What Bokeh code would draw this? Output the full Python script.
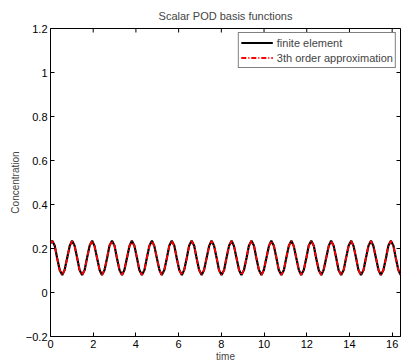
import math
from bokeh.plotting import figure
from bokeh.models import FixedTicker, CustomJSTickFormatter, Range1d, Legend, LegendItem
from bokeh.embed import file_html
from bokeh.resources import INLINE

# ---- data ----
time = [
    0.00,
    0.08, 0.20, 0.31, 0.43, 0.55, 0.66, 0.78, 0.90,
    1.01, 1.13, 1.25, 1.36, 1.48, 1.60, 1.71, 1.83,
    1.95, 2.06, 2.18, 2.30, 2.41, 2.53, 2.65, 2.76,
    2.88, 3.00, 3.11, 3.23, 3.35, 3.46, 3.58, 3.70,
    3.81, 3.93, 4.05, 4.16, 4.28, 4.40, 4.51, 4.63,
    4.75, 4.86, 4.98, 5.10, 5.21, 5.33, 5.45, 5.56,
    5.68, 5.80, 5.91, 6.03, 6.15, 6.26, 6.38, 6.49,
    6.61, 6.73, 6.84, 6.96, 7.08, 7.19, 7.31, 7.43,
    7.54, 7.66, 7.78, 7.89, 8.01, 8.13, 8.24, 8.36,
    8.48, 8.59, 8.71, 8.83, 8.94, 9.06, 9.18, 9.29,
    9.41, 9.53, 9.64, 9.76, 9.88, 9.99, 10.11, 10.23,
    10.34, 10.46, 10.58, 10.69, 10.81, 10.93, 11.04, 11.16,
    11.28, 11.39, 11.51, 11.63, 11.74, 11.86, 11.98, 12.09,
    12.21, 12.33, 12.44, 12.56, 12.68, 12.79, 12.91, 13.03,
    13.14, 13.26, 13.38, 13.49, 13.61, 13.73, 13.84, 13.96,
    14.08, 14.19, 14.31, 14.42, 14.54, 14.66, 14.77, 14.89,
    15.01, 15.12, 15.24, 15.36, 15.47, 15.59, 15.71, 15.82,
    15.94, 16.06, 16.17, 16.29, 16.39,
]
finite_element = [
    0.224,
    0.235, 0.212, 0.157, 0.102, 0.079, 0.102, 0.157, 0.212,
    0.235, 0.212, 0.157, 0.102, 0.079, 0.102, 0.157, 0.212,
    0.235, 0.212, 0.157, 0.102, 0.079, 0.102, 0.157, 0.212,
    0.235, 0.212, 0.157, 0.102, 0.079, 0.102, 0.157, 0.212,
    0.235, 0.212, 0.157, 0.102, 0.079, 0.102, 0.157, 0.212,
    0.235, 0.212, 0.157, 0.102, 0.079, 0.102, 0.157, 0.212,
    0.235, 0.212, 0.157, 0.102, 0.079, 0.102, 0.157, 0.212,
    0.235, 0.212, 0.157, 0.102, 0.079, 0.102, 0.157, 0.212,
    0.235, 0.212, 0.157, 0.102, 0.079, 0.102, 0.157, 0.212,
    0.235, 0.212, 0.157, 0.102, 0.079, 0.102, 0.157, 0.212,
    0.235, 0.212, 0.157, 0.102, 0.079, 0.102, 0.157, 0.212,
    0.235, 0.212, 0.157, 0.102, 0.079, 0.102, 0.157, 0.212,
    0.235, 0.212, 0.157, 0.102, 0.079, 0.102, 0.157, 0.212,
    0.235, 0.212, 0.157, 0.102, 0.079, 0.102, 0.157, 0.212,
    0.235, 0.212, 0.157, 0.102, 0.079, 0.102, 0.157, 0.212,
    0.235, 0.212, 0.157, 0.102, 0.079, 0.102, 0.157, 0.212,
    0.235, 0.212, 0.157, 0.102, 0.079, 0.102, 0.157, 0.212,
    0.235, 0.212, 0.157, 0.102, 0.080,
]
approximation = [
    0.224,
    0.234, 0.212, 0.157, 0.102, 0.080, 0.102, 0.157, 0.212,
    0.234, 0.212, 0.157, 0.102, 0.080, 0.102, 0.157, 0.212,
    0.234, 0.212, 0.157, 0.102, 0.080, 0.102, 0.157, 0.212,
    0.234, 0.212, 0.157, 0.102, 0.080, 0.102, 0.157, 0.212,
    0.234, 0.212, 0.157, 0.102, 0.080, 0.102, 0.157, 0.212,
    0.234, 0.212, 0.157, 0.102, 0.080, 0.102, 0.157, 0.212,
    0.234, 0.212, 0.157, 0.102, 0.080, 0.102, 0.157, 0.212,
    0.234, 0.212, 0.157, 0.102, 0.080, 0.102, 0.157, 0.212,
    0.234, 0.212, 0.157, 0.102, 0.080, 0.102, 0.157, 0.212,
    0.234, 0.212, 0.157, 0.102, 0.080, 0.102, 0.157, 0.212,
    0.234, 0.212, 0.157, 0.102, 0.080, 0.102, 0.157, 0.212,
    0.234, 0.212, 0.157, 0.102, 0.080, 0.102, 0.157, 0.212,
    0.234, 0.212, 0.157, 0.102, 0.080, 0.102, 0.157, 0.212,
    0.234, 0.212, 0.157, 0.102, 0.080, 0.102, 0.157, 0.212,
    0.234, 0.212, 0.157, 0.102, 0.080, 0.102, 0.157, 0.212,
    0.234, 0.212, 0.157, 0.102, 0.080, 0.102, 0.157, 0.212,
    0.234, 0.212, 0.157, 0.102, 0.080, 0.102, 0.157, 0.212,
    0.234, 0.212, 0.157, 0.102, 0.080,
]
x_ticks = [0, 2, 4, 6, 8, 10, 12, 14, 16]
y_ticks = [-0.2, 0, 0.2, 0.4, 0.6, 0.8, 1.0, 1.2]
x_limits = [0, 16.39]
y_limits = [-0.2, 1.2]
series_names = ["finite element", "3th order approximation"]

FONT = "Liberation Sans"

p = figure(width=401, height=364, output_backend="svg", toolbar_location=None,
           x_range=Range1d(*x_limits), y_range=Range1d(*y_limits),
           min_border_left=50, min_border_right=1, min_border_top=0, min_border_bottom=28,
           title="Scalar POD basis functions")
p.title.align = "center"
p.title.text_font = FONT
p.title.text_font_size = "11px"
p.title.text_font_style = "normal"
p.title.standoff = 14
p.grid.visible = False
p.outline_line_color = "black"
p.outline_line_width = 1
p.background_fill_color = "white"
p.border_fill_color = "white"

fmt = CustomJSTickFormatter(code="""
var s = (Math.abs(tick) < 1e-9) ? '0' : tick.toFixed(1).replace(/\\.0$/, '');
return s.replace('-', '\\u2212');
""")

def style_axis(ax, ticks):
    ax.ticker = FixedTicker(ticks=ticks)
    ax.formatter = fmt
    ax.major_tick_in = 4
    ax.major_tick_out = 0
    ax.minor_tick_line_color = None
    ax.axis_line_color = "black"
    ax.major_tick_line_color = "black"
    ax.major_label_text_font = FONT
    ax.major_label_text_color = "black"
    ax.major_label_text_font_size = "11px"
    ax.major_label_standoff = 3
    ax.axis_label_text_font = FONT
    ax.axis_label_text_font_style = "normal"
    ax.axis_label_text_font_size = "10px"
    ax.axis_label_standoff = 2

xa = p.xaxis[0]
ya = p.yaxis[0]
style_axis(xa, x_ticks)
style_axis(ya, y_ticks)
xa.axis_label = "time"
ya.axis_label = "Concentration"
xa.axis_label_standoff = 0

# inward ticks on the top and right edges of the box (MATLAB style)
p.ray(x=x_ticks, y=[y_limits[1]] * len(x_ticks), length=4, length_units="screen",
      angle=-math.pi / 2, line_color="black", line_width=1)
p.ray(x=[x_limits[1]] * len(y_ticks), y=y_ticks, length=4, length_units="screen",
      angle=math.pi, line_color="black", line_width=1)

r1 = p.line(time, finite_element, line_color="black", line_width=2.2)
r2 = p.line(time, approximation, line_color="red", line_width=1.8, line_dash="5 2 1 2")

legend = Legend(items=[LegendItem(label=series_names[0], renderers=[r1]),
                       LegendItem(label=series_names[1], renderers=[r2])],
                location="top_right")
legend.margin = 4
legend.padding = 2
legend.spacing = 0
legend.glyph_width = 32
legend.glyph_height = 15
legend.label_height = 15
legend.label_standoff = 4
legend.label_text_font = FONT
legend.label_text_font_size = "11px"
legend.border_line_color = "black"
legend.border_line_width = 1
legend.background_fill_alpha = 1
p.add_layout(legend, "center")

open("out.html", "w").write(file_html(p, INLINE))
